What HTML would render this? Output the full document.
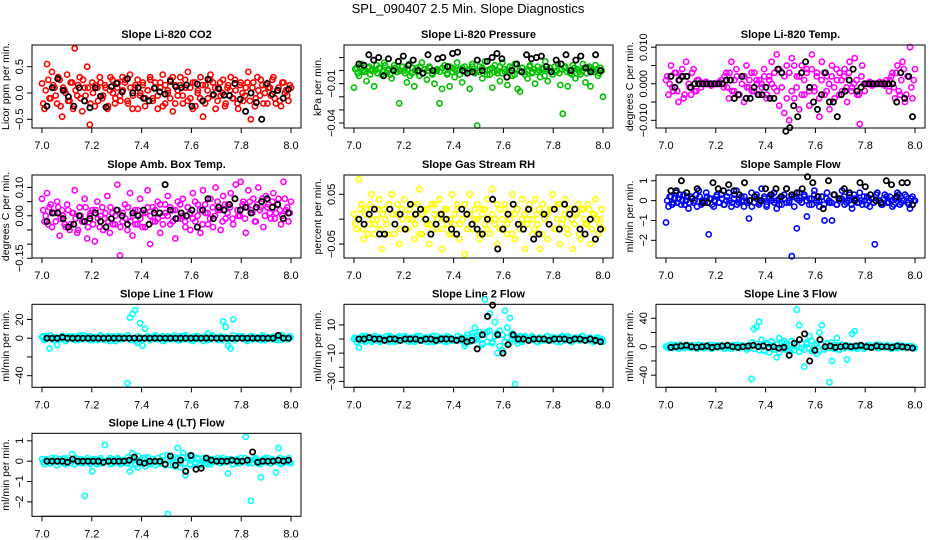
<!DOCTYPE html>
<html><head><meta charset="utf-8">
<style>
html,body{margin:0;padding:0;background:#fff;}
svg{display:block;font-family:"Liberation Sans",Arial,sans-serif;}
</style></head>
<body>
<svg id="chart" width="936" height="540" viewBox="0 0 936 540" xmlns="http://www.w3.org/2000/svg">
<rect width="936" height="540" fill="#fff"/>
<text x="468" y="13" text-anchor="middle" font-size="13">SPL_090407  2.5 Min. Slope Diagnostics</text>
</svg>
<script>
// ---- data (main series: evenly spaced over 7.0-8.0; reference series: 7.02-7.99) ----
const xTicks = [7.0, 7.2, 7.4, 7.6, 7.8, 8.0];
const xTickLabels = ["7.0", "7.2", "7.4", "7.6", "7.8", "8.0"];
const titles = ["Slope Li-820 CO2","Slope Li-820 Pressure","Slope Li-820 Temp.","Slope Amb. Box Temp.","Slope Gas Stream RH","Slope Sample Flow","Slope Line 1 Flow","Slope Line 2 Flow","Slope Line 3 Flow","Slope Line 4 (LT) Flow"];
const yTitles = ["Licor ppm per min.","kPa per min.","degrees C per min.","degrees C per min.","percent per min.","ml/min per min.","ml/min per min.","ml/min per min.","ml/min per min.","ml/min per min."];
const colors = ["#ff0000","#00c000","#ff00ff","#ff00ff","#ffff00","#0000ff","#00ffff","#00ffff","#00ffff","#00ffff"];
const units = [0.01, 0.001, 0.001, 0.01, 0.01, 0.1, 1, 1, 1, 0.01];
const yLims = [[-0.665,0.912],[-0.0438,0.0195],[-0.0121,0.0106],[-0.149,0.144],[-0.078,0.0888],[-2.89,1.29],[-52.4,36.2],[-34.2,24.6],[-57,59.6],[-2.71,1.37]];
const yTicks = [[-0.5,0,0.5],[0.01,0,-0.01,-0.02,-0.03,-0.04],[0.01,0.005,0,-0.005,-0.01],[0.1,0.05,0,-0.05,-0.1,-0.15],[0.05,0,-0.05],[1,0,-1,-2],[20,0,-20,-40],[10,0,-10,-20,-30],[40,20,0,-20,-40],[1,0,-1,-2]];
const yTickLabels = [["−0.5","0.0","0.5"],["","","−0.01","","","−0.04"],["0.010","","0.000","","−0.010"],["0.10","","0.00","","","−0.15"],["0.05","","−0.05"],["1","0","−1","−2"],["20","0","","−40"],["10","","−10","","−30"],["40","","0","","−40"],["1","0","−1","−2"]];

const co2 = [18,-30,55,-10,40,10,-20,25,-45,5,35,-15,20,85,-5,30,-35,10,50,-60,20,-25,10,30,-10,15,-30,5,25,-20,10,-5,30,20,-15,35,-30,10,25,-5,15,-25,5,30,-10,20,-30,10,35,-20,5,25,-35,15,-5,30,-20,10,40,-10,20,-25,5,30,-45,15,-10,35,20,-30,10,-5,25,-20,15,30,-10,5,-30,20,-15,10,40,-50,20,-10,5,25,-20,15,10,-5,30,-20,10,-25,20,5,-15,10];
const co2B = [-20,5,25,-10,15,-5,30,-25,10,0,-15,20,-30,5,15,-10,25,-5,10,-20,0,15,-15,20,-5,10,-25,30,0,-10,20,-15,5,25,-20,10,-5,15,-30,0,20,-10,5,25,-15,10,-5,20,-25,15,0,-10,30,-20,5,15,-5,25,-15,10,-30,20,0,-10,15,-20,5,25,-5,10,-15,20,0,-25,10,5,-10,25,-20,15,0,-5,20,-15,10,-25,30,-5,15,0,-20,10,25,-10,5,-15,20,0,-5,15];
const co2Ref = [-25,10,27,5,-7,-25,10,-15,-28,10,-6,-27,12,18,2,27,0,10,-10,-15,9,2,-2,22,12,10,15,-25,17,-15,26,-3,8,-4,-5,18,-12,-35,0,-18,-50,18,-2,5,-10,7];
const pres = [-13,2,-4,5,-1,-8,3,0,-12,4,2,-3,6,-2,1,-6,4,-1,-25,3,0,-9,5,-2,-12,2,-4,6,1,-7,3,-2,-10,0,-25,-14,4,-3,-12,2,-5,6,1,-9,3,-2,-14,5,-1,-42,3,-6,7,0,-3,-13,4,-2,-8,6,-1,-11,3,-4,5,-14,-16,2,-3,-6,4,-1,-10,3,-5,1,7,-8,2,-3,-1,5,-11,-33,3,-12,-2,4,-6,1,-3,5,-9,2,-12,-1,4,-4,2,-20];
const presB = [1,-2,3,0,-1,2,-3,1,0,-2,2,-1,4,0,-3,1,2,-1,0,3,-2,1,-4,2,0,-1,3,-2,1,0,2,-3,0,1,-1,2,0,-2,3,-1,1,0,-3,2,-1,0,1,3,-2,0,-1,2,0,-3,1,2,-1,0,3,-2,1,0,-1,2,-3,1,0,2,-1,0,3,-2,1,-1,0,2,-4,1,0,-1,3,0,-2,1,2,-1,0,-3,2,1,-1,0,2,-2,3,0,-1,1,-2,0];
const presRef = [5,4,12,8,10,-4,9,0,7,11,4,8,0,-2,12,0,9,10,3,13,14,0,-2,-1,8,0,7,10,13,9,-5,0,5,-1,12,9,10,11,3,-1,8,5,12,0,8,11,2,-1,12,0];
const temp = [1,-3,5,-2,3,-5,2,-4,6,0,-3,4,-2,1,-1,0,0.5,0,-0.5,0,0,0,1,-1,3,-4,6,-2,4,-3,2,-5,5,-1,3,-2,1,-3,0,4,-4,2,6,-1,8,-6,3,-8,5,-10,7,-4,2,-7,5,-3,4,-6,8,-2,3,-9,6,-3,2,-7,5,-4,1,3,-2,4,-5,6,-1,7,-3,-11,5,-2,0,0.5,-0.5,0,0,0.5,0,-0.5,0,1,3,-4,5,-3,6,-5,2,10,-4,4];
const tempB = [2,0,-1,3,-2,1,4,-3,2,-1,3,-2,1,0,0,0,0,0,0,0,0,0.5,0,2,-1,3,-2,1,2,-3,0,2,-1,1,-2,3,0,1,-1,2,-3,1,0,3,-2,4,-1,2,-4,3,-2,5,-1,2,-3,1,3,-2,4,-1,2,-4,1,3,-2,0,2,-1,4,-3,1,2,-1,3,-2,0,1,-3,2,0,0,0,0,0,0,0,0,0,1,-2,2,-1,3,-2,1,4,-3,2,-1,1];
const tempRef = [2,-1,1,2,2,-1,0,0,0,0,0,0,0,0,1,1,-4,-3,2,-4,-4,-1,-3,-3,-1,-4,-4,4,3,-13,-12,-6,-9,3,6,-1,-5,-7,-3,3,-5,-5,-9,-3,-2,1,4,-2,-1,0,0,0,0,0,0,0,0,-5,3,-4,2,-9];
const amb = [6,-2,8,3,-4,1,5,-7,2,-3,4,-5,1,9,-6,3,-2,6,-8,0,2,-9,5,-4,3,-1,7,-6,1,-3,11,-14,-2,4,-5,8,-7,2,-3,6,-4,1,9,-10,3,-2,5,-6,0,4,7,-3,2,-8,5,-1,6,-4,3,-5,8,-2,4,-6,9,1,-3,6,-4,10,2,-5,7,-1,4,8,-3,11,0,12,5,-6,9,2,6,-2,10,3,-4,7,4,-1,8,1,6,-3,12,2,-2,5];
const ambB = [2,0,-3,4,1,-2,3,-1,0,-4,2,-3,1,-1,-5,0,-2,3,-4,1,-3,2,-1,0,-5,1,-2,3,-3,0,2,-4,1,-1,3,-2,0,-3,2,-1,1,-4,3,0,-2,2,-1,4,-3,1,0,3,-2,2,-1,4,0,-2,3,1,-1,5,0,2,-3,4,1,-1,3,0,5,2,-2,4,1,3,-1,6,2,0,4,-1,3,5,1,-2,4,2,6,0,3,1,5,-1,4,2,0,6,3,1];
const ambRef = [-2,1,1,-1,-4,-3,0,-2,-1,1,-2,-4,-1,2,0,-3,1,0,2,-3,1,1,11,2,-1,1,0,2,-4,2,6,-1,3,2,4,6,2,3,1,3,5,6,3,4,-1,1];
const rh = [1,-2,8,3,-4,2,-1,5,-3,0,4,-6,2,-1,3,5,-3,1,-5,2,4,-2,0,3,-4,1,6,-3,2,-1,-5,3,1,-2,4,-6,0,2,-3,5,-1,3,-4,2,-7,1,5,-2,0,3,-4,2,-1,4,-3,6,0,-5,2,-2,3,-3,1,5,-4,2,-1,4,-6,0,2,-3,4,-1,-6,3,1,-4,2,5,-2,3,-5,0,4,-3,2,-6,1,3,-4,2,-1,3,-5,1,4,-3,0,-2];
const rhB = [-1,0,2,-2,1,-3,3,0,-1,2,-2,1,0,-3,2,1,-1,3,-2,0,1,-2,2,0,-1,3,-3,1,0,2,-1,-2,3,0,1,-2,2,-1,0,-3,1,2,-1,0,3,-2,1,-1,2,0,-3,1,2,-2,0,1,-1,3,-2,0,2,-1,0,-3,1,2,-2,0,1,-1,3,0,-2,1,2,-3,0,1,-1,2,-2,0,3,-1,1,-2,2,0,-1,1,-3,2,0,-1,2,-2,1,0,-1,2];
const rhRef = [0,-1,1,2,-3,-3,2,-1,1,-2,3,1,2,0,-3,-1,1,0,-2,-3,2,1,-1,-2,-3,0,4,-6,-2,1,3,-1,-2,2,-4,-3,1,-1,2,-2,3,1,2,-2,-3,0,-4,-2];
const samp = [-11,-3,2,-1,4,1,-2,3,0,-4,2,-1,3,5,-2,0,4,-17,1,-3,2,-1,3,-2,0,4,-3,1,5,-1,2,-3,0,-9,4,-1,3,-2,6,1,-3,2,0,4,-4,1,-2,3,6,-1,-28,2,-14,4,-1,3,-8,1,-2,5,0,-3,2,-10,4,-1,-10,3,-2,1,5,-2,0,3,-4,1,-1,4,-2,0,2,-3,1,-22,4,0,-2,3,-1,2,-3,1,4,-2,0,3,-1,-4,2,0];
const sampB = [0,2,-2,1,-1,3,0,-2,2,-1,1,0,-3,2,0,-1,2,1,-2,0,3,-1,1,-2,2,0,-1,3,-2,1,0,2,-1,0,-3,2,1,-1,0,2,-2,1,3,-1,0,-2,2,1,-1,0,2,-3,1,0,-1,2,0,-2,1,3,-1,0,2,-2,1,0,-1,3,-2,0,1,2,-1,0,-2,3,1,-1,0,2,-2,0,1,-1,3,0,-2,1,2,-1,0,-2,1,3,-1,0,2,-2,1,0];
const sampRef = [5,5,10,4,1,6,-1,-1,9,6,5,8,5,3,9,0,2,0,6,3,6,2,6,3,4,6,12,9,2,-4,10,3,1,6,4,0,9,7,3,0,-1,10,8,2,9,9,-2];
const line1 = [1,-2,2,-11,0,1,-7,-1,2,0,-1,2,0,-2,1,3,-1,0,2,-2,1,0,-2,2,-1,1,0,-3,2,-1,0,2,-1,1,-48,22,26,30,-5,16,-8,10,1,-2,0,2,-1,1,-3,0,2,-1,1,0,-2,2,-1,3,0,-2,1,-1,2,0,-3,1,5,-1,2,0,-2,1,18,12,-8,-11,20,-1,2,0,1,-2,0,2,-1,1,0,-2,2,-1,0,1,-1,2,0,-2,1,0,-1,1];
const line1B = [2,-1,0,3,-2,1,0,-1,2,-3,1,0,2,-1,-2,1,3,0,-1,2,-2,1,0,3,-1,-2,2,0,1,-3,2,-1,0,1,3,-2,0,-3,2,1,-1,0,2,-2,1,3,-1,0,2,-2,0,1,-1,3,0,-2,2,-1,1,0,-3,2,1,-1,0,2,-2,1,3,0,-1,2,-2,1,0,-1,3,-2,0,1,2,-1,-3,0,2,1,-1,0,3,-2,1,0,-1,2,-2,1,3,0,-1,2];
const line1Ref = [0,0,0,1,0,0,0,0,0,0,0,0,0,0,0,0,0,0,0,0,0,0,0,0,0,0,0,0,0,0,0,0,0,0,0,0,0,0,0,0,0,0,0,0,0,3,0,0];
const line2 = [0,-2,-6,1,-1,2,0,-2,1,-1,1,-1,0,2,-2,1,0,-1,2,-1,0,1,-2,1,-1,2,0,-1,1,-2,1,0,-2,2,-1,0,1,-2,1,0,-1,2,0,-1,-5,1,-2,2,8,0,3,-3,28,5,18,-2,12,-10,6,-8,20,8,15,2,-32,-3,1,-1,2,0,-1,1,0,-2,1,0,-1,2,0,-1,1,0,-2,1,-1,2,0,-1,1,0,-1,2,0,-1,1,-2,0,1,-1,-2];
const line2B = [1,0,-1,2,-2,0,1,-1,2,0,-2,1,0,-1,2,1,-2,0,1,-1,2,0,-1,1,-2,0,2,-1,0,1,-2,2,0,-1,1,0,-2,2,1,-1,0,2,-1,1,-3,3,-2,4,-1,2,5,-4,3,-2,6,-3,2,4,-5,3,-2,1,-3,4,0,-1,2,-2,1,0,-1,2,0,-2,1,-1,0,2,-1,1,0,-2,1,2,-1,0,1,-2,0,1,-1,2,0,-1,1,0,-2,1,-1,0];
const line2Ref = [0,0,1,0,0,-1,0,0,-1,0,0,0,-1,0,0,-1,0,0,0,-1,0,-2,-1,-7,3,16,24,3,-10,-4,3,0,0,-1,0,0,0,-1,0,0,0,-1,0,0,-1,0,-1,-2];
const line3 = [0,-2,3,-1,1,-3,2,0,-1,2,-2,1,0,3,-1,-2,1,0,-3,2,1,-1,2,0,-2,1,-3,2,0,-1,2,-1,0,-2,-45,25,28,35,10,-5,3,-8,2,-3,-15,12,0,8,-4,2,-3,5,52,30,-2,-28,4,15,-6,2,-10,20,30,-3,5,-50,-20,2,12,-4,3,-2,-18,1,18,22,-3,2,0,-1,2,-1,0,1,-2,3,0,-1,2,-2,1,0,-2,2,-1,0,1,-1,0,-2];
const line3B = [1,0,-2,2,-1,3,0,-2,1,-1,2,0,-3,1,2,-1,0,3,-2,1,-1,2,0,-3,1,0,2,-1,3,-2,0,1,-4,2,6,-3,4,-5,2,-6,5,-2,7,-4,3,-8,6,-3,4,-6,8,-5,3,-7,5,-4,6,-3,8,-5,4,-6,3,-4,5,-2,6,-3,2,-4,3,-1,2,0,-2,1,-1,2,0,-3,1,2,-1,0,3,-2,1,-1,2,0,-3,1,0,2,-1,1,-2,0,1,-1];
const line3Ref = [-1,0,1,2,0,-1,0,1,-1,0,1,2,0,-1,0,1,2,0,1,-1,0,-2,-1,-12,5,10,18,-20,-5,10,0,1,-1,0,1,0,1,2,0,-1,1,0,0,-1,1,0,-1,-2];
const line4 = [10,-15,5,-10,15,0,-20,10,-5,15,-10,5,35,-15,10,0,-10,-170,15,-5,-50,10,-15,5,-10,80,0,15,-10,5,10,-15,5,0,-10,-50,40,10,-30,5,-10,15,0,-15,10,-5,15,-10,5,-20,-260,10,-15,20,65,-10,40,-70,15,-20,25,-15,10,-20,15,-10,5,-15,10,0,5,-10,15,-5,-60,10,-15,5,-10,15,0,120,-10,-195,5,15,-10,-80,10,-5,15,-10,5,-55,65,-15,10,-5,15,-10];
const line4B = [-5,10,0,-10,5,15,-5,0,10,-15,5,-10,0,15,-5,10,-10,5,0,-15,10,5,-5,15,-10,0,5,-15,10,-5,15,0,-10,5,20,-15,10,-20,25,-10,15,-25,20,-5,10,-20,15,-10,25,-15,30,-20,10,-25,15,-30,20,-10,25,-15,10,-5,15,-10,0,5,-15,10,-5,0,15,-10,5,-5,10,0,-15,5,10,-10,0,15,-5,5,-10,10,0,-15,5,15,-5,-10,10,0,-5,15,-10,5,0,-5];
const line4Ref = [0,0,0,0,-5,10,0,0,0,0,0,-5,0,0,0,0,5,20,-5,-10,0,0,0,-15,25,-20,5,-50,28,-40,-35,15,5,0,0,0,5,0,0,5,45,-5,0,0,0,5,0,5];

const mainSeries = [co2, pres, temp, amb, rh, samp, line1, line2, line3, line4];
const mainSeriesB = [co2B, presB, tempB, ambB, rhB, sampB, line1B, line2B, line3B, line4B];
const refSeries = [co2Ref, presRef, tempRef, ambRef, rhRef, sampRef, line1Ref, line2Ref, line3Ref, line4Ref];

// ---- layout ----
const NS = "http://www.w3.org/2000/svg";
const svg = document.getElementById("chart");
const colLeft = [32, 344, 656], rowTop = [45, 175, 304.3, 433.3];
const boxW = 269, boxH = 83;
const xLim = [6.96, 8.04];
function mk(tag, attrs, parent) {
  const e = document.createElementNS(NS, tag);
  for (const k in attrs) e.setAttribute(k, attrs[k]);
  parent.appendChild(e);
  return e;
}
for (let p = 0; p < 10; p++) {
  const L = colLeft[p % 3], T = rowTop[Math.floor(p / 3)];
  const g = mk("g", {}, svg);
  
  
  const xs = v => L + (v - xLim[0]) / (xLim[1] - xLim[0]) * boxW;
  const yl = yLims[p];
  const ys = v => T + boxH - (v - yl[0]) / (yl[1] - yl[0]) * boxH;
  const t = mk("text", {x: L + boxW / 2, y: T - 7, "text-anchor": "middle", "font-size": "11", "font-weight": "bold"}, g);
  t.textContent = titles[p];
  
  
  const pts = mk("g", {fill: "none", "stroke-width": "1.6"}, g);
  
  
  const m = mainSeries[p];
  m.forEach((v, i) => {
    const c = mk("circle", {cx: xs(7 + i / (m.length - 1)).toFixed(1), cy: ys(v * units[p]).toFixed(1), r: 2.6, stroke: colors[p]}, pts);
    
    
  });
  const mb = mainSeriesB[p];
  mb.forEach((v, i) => {
    const c = mk("circle", {cx: xs(7.005 + 0.99 * i / (mb.length - 1)).toFixed(1), cy: ys(v * units[p]).toFixed(1), r: 2.6, stroke: colors[p]}, pts);
    
    
  });
  const rg = mk("g", {fill: "none", "stroke-width": "1.8", stroke: "#000"}, g);
  
  
  const r = refSeries[p];
  r.forEach((v, i) => {
    const c = mk("circle", {cx: xs(7.02 + 0.97 * i / (r.length - 1)).toFixed(1), cy: ys(v * units[p]).toFixed(1), r: 2.6}, rg);
    
    
  });
  const b = mk("rect", {x: L, y: T, width: boxW, height: boxH, fill: "none", stroke: "#000", "stroke-width": "1"}, g);
  
  
  const xa = mk("g", {}, g);
  
  
  mk("line", {x1: xs(xTicks[0]), x2: xs(xTicks[xTicks.length - 1]), y1: T + boxH, y2: T + boxH, stroke: "#000"}, xa);
  xTicks.forEach((v, i) => {
    mk("line", {x1: xs(v), x2: xs(v), y1: T + boxH, y2: T + boxH + 5, stroke: "#000"}, xa);
    const tl = mk("text", {x: xs(v), y: T + boxH + 21, "text-anchor": "middle", "font-size": "11"}, xa);
    tl.textContent = xTickLabels[i];
    
    
  });
  const ya = mk("g", {}, g);
  
  
  yTicks[p].forEach((v, i) => {
    const yy = ys(v);
    mk("line", {x1: L - 5, x2: L, y1: yy, y2: yy, stroke: "#000"}, ya);
    if (yTickLabels[p][i]) {
      const tl = mk("text", {x: L - 9, y: yy, "text-anchor": "middle", "font-size": "11", transform: `rotate(-90 ${L - 9} ${yy})`}, ya);
      tl.textContent = yTickLabels[p][i];
      
      
    }
  });
  const yt = mk("text", {x: L - 23, y: T + boxH / 2, "text-anchor": "middle", "font-size": "10.5", transform: `rotate(-90 ${L - 23} ${T + boxH / 2})`}, ya);
  yt.textContent = yTitles[p];
  
  
}
</script>
</body></html>
